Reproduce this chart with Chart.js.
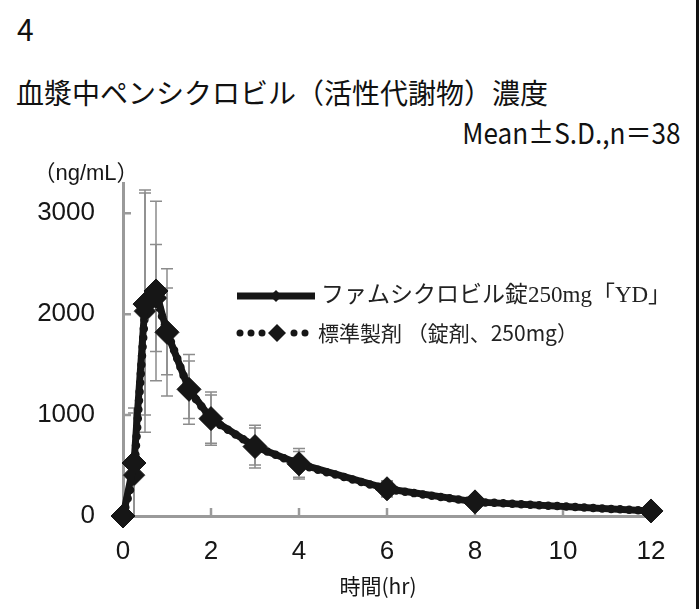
<!DOCTYPE html>
<html lang="ja">
<head>
<meta charset="utf-8">
<script src="https://cdn.jsdelivr.net/npm/chart.js@4/dist/chart.umd.min.js"></script>
<style>
  html, body { margin: 0; padding: 0; background: #fff; }
  body { width: 699px; height: 609px; position: relative; overflow: hidden;
         font-family: "Noto Sans CJK JP", sans-serif; color: #111; }
  .txt { position: absolute; white-space: nowrap; }
  #num { left: 17px; top: 13px; font-size: 30px; line-height: 30px; }
  #title { left: 16px; top: 78px; font-size: 28px; line-height: 28px; }
  #stat { right: 19px; top: 117px; font-size: 29px; line-height: 29px;
          transform: scaleX(0.9); transform-origin: right center; }
  #wrap { position: absolute; left: 0; top: 0; width: 699px; height: 609px; }
  .edge { position: absolute; right: 0; top: 0; width: 3px; height: 609px; background: #111; }
</style>
</head>
<body>
<div class="txt" id="num">4</div>
<div class="txt" id="title">血漿中ペンシクロビル（活性代謝物）濃度</div>
<div class="txt" id="stat">Mean±S.D.,n＝38</div>
<div id="wrap"><canvas id="pkChart" width="699" height="609"></canvas></div>
<div class="edge"></div>
<script>
// sampling times (hr)
const times = [0, 0.25, 0.5, 0.75, 1, 1.5, 2, 3, 4, 6, 8, 12];

// famciclovir 250mg "YD" : mean / SD (ng/mL)
const testMean = [0, 525, 2100, 2230, 1820, 1255, 965, 688, 518, 270, 140, 50];
const testSD   = [0, 545, 1100, 890, 630, 345, 265, 212, 152, 80, 45, 20];

// reference product : mean / SD (ng/mL)
const refMean = [0, 405, 2030, 2160, 1830, 1250, 960, 688, 512, 265, 140, 50];
const refSD   = [0, 615, 1200, 530, 430, 285, 240, 183, 128, 75, 40, 18];

const xTicks = [0, 2, 4, 6, 8, 10, 12];
const yTicks = [0, 1000, 2000, 3000];
const seriesNames = ['ファムシクロビル錠250mg「YD」', '標準製剤 （錠剤、250mg）'];

const AXIS = '#9a9a9a';
const INK = '#161616';

/* SD whiskers, drawn under the lines */
const errorBars = {
  id: 'errorBars',
  beforeDatasetsDraw(chart) {
    const {ctx, chartArea, scales: {x, y}} = chart;
    ctx.save();
    ctx.beginPath();
    ctx.rect(chartArea.left, chartArea.top - 4, chartArea.width + 10, chartArea.height + 4);
    ctx.clip();
    ctx.strokeStyle = '#8c8c8c';
    ctx.lineWidth = 1.5;
    [[testMean, testSD], [refMean, refSD]].forEach(([m, s]) => {
      times.forEach((t, i) => {
        if (!s[i]) return;
        const px = x.getPixelForValue(t);
        const hi = y.getPixelForValue(m[i] + s[i]);
        const lo = y.getPixelForValue(m[i] - s[i]);
        ctx.beginPath();
        ctx.moveTo(px, hi); ctx.lineTo(px, lo);
        ctx.moveTo(px - 6, hi); ctx.lineTo(px + 6, hi);
        ctx.moveTo(px - 6, lo); ctx.lineTo(px + 6, lo);
        ctx.stroke();
      });
    });
    ctx.restore();
  }
};

/* short tick marks pointing into the plot */
const innerTicks = {
  id: 'innerTicks',
  beforeDatasetsDraw(chart) {
    const {ctx, chartArea, scales: {x, y}} = chart;
    ctx.save();
    ctx.strokeStyle = AXIS;
    ctx.lineWidth = 2.5;
    ctx.beginPath();
    yTicks.forEach(v => {
      if (v === 0) return;
      const py = y.getPixelForValue(v);
      ctx.moveTo(chartArea.left, py); ctx.lineTo(chartArea.left + 8, py);
    });
    xTicks.forEach(v => {
      if (v === 0) return;
      const px = x.getPixelForValue(v);
      ctx.moveTo(px, chartArea.bottom); ctx.lineTo(px, chartArea.bottom - 8);
    });
    ctx.stroke();
    ctx.restore();
  }
};

/* unit label, x title and the legend inside the plot */
const labels = {
  id: 'labels',
  afterDraw(chart) {
    const {ctx, chartArea} = chart;
    ctx.save();
    ctx.fillStyle = INK;
    ctx.textBaseline = 'middle';
    ctx.textAlign = 'center';
    ctx.font = '22px "Liberation Sans", "Noto Sans CJK JP"';
    ctx.fillText('（ng/mL）', chartArea.left - 37, chartArea.top - 9);
    ctx.font = '21px "Noto Sans CJK JP"';
    ctx.fillText('時間(hr)', (chartArea.left + chartArea.right) / 2 - 9, 586);

    // legend
    const lx = 237, ly1 = 296, ly2 = 333;
    ctx.strokeStyle = INK;
    ctx.fillStyle = INK;
    ctx.lineWidth = 7;
    ctx.lineCap = 'butt';
    ctx.beginPath();
    ctx.moveTo(lx, ly1); ctx.lineTo(lx + 78, ly1);
    ctx.stroke();
    diamond(ctx, lx + 39, ly1, 6);
    [0, 11, 22, 54, 65].forEach(dx => {
      ctx.beginPath();
      ctx.arc(lx + 3 + dx, ly2, 3.5, 0, Math.PI * 2);
      ctx.fill();
    });
    diamond(ctx, lx + 40, ly2, 9);

    ctx.textAlign = 'left';
    ctx.fillStyle = '#222';
    ctx.font = '23px "Liberation Serif", "Noto Sans CJK JP"';
    ctx.fillText(seriesNames[0], lx + 84, ly1);
    ctx.font = '21px "Noto Sans CJK JP"';
    ctx.fillText(seriesNames[1], lx + 81, ly2);
    ctx.restore();
  }
};

function diamond(ctx, cx, cy, r) {
  ctx.beginPath();
  ctx.moveTo(cx, cy - r); ctx.lineTo(cx + r, cy);
  ctx.lineTo(cx, cy + r); ctx.lineTo(cx - r, cy);
  ctx.closePath();
  ctx.fill();
}

const toPoints = arr => times.map((t, i) => ({x: t, y: arr[i]}));

new Chart(document.getElementById('pkChart'), {
  type: 'line',
  data: {
    datasets: [
      {
        label: seriesNames[0],
        data: toPoints(testMean),
        borderColor: INK,
        borderWidth: 7,
        pointStyle: 'rectRot',
        pointRadius: 12,
        pointBackgroundColor: INK,
        pointBorderColor: INK,
        pointBorderWidth: 1,
        tension: 0,
        clip: false
      },
      {
        label: seriesNames[1],
        data: toPoints(refMean),
        borderColor: INK,
        borderWidth: 8.5,
        borderDash: [0, 9],
        borderCapStyle: 'round',
        pointStyle: 'rectRot',
        pointRadius: 11,
        pointBackgroundColor: INK,
        pointBorderColor: '#555',
        pointBorderWidth: 1,
        tension: 0,
        clip: false
      }
    ]
  },
  options: {
    responsive: false,
    animation: false,
    layout: {padding: {top: 183, right: 48, left: 0, bottom: 0}},
    plugins: {legend: {display: false}, tooltip: {enabled: false}},
    scales: {
      x: {
        type: 'linear',
        min: 0,
        max: 12,
        afterBuildTicks: s => { s.ticks = xTicks.map(v => ({value: v})); },
        afterFit: s => { s.height = 93; },
        grid: {drawOnChartArea: false, drawTicks: false},
        border: {color: AXIS, width: 3},
        ticks: {color: INK, padding: 20, font: {family: 'Liberation Sans', size: 26},
                callback: v => String(v)}
      },
      y: {
        min: 0,
        max: 3300,
        afterBuildTicks: s => { s.ticks = yTicks.map(v => ({value: v})); },
        afterFit: s => { s.width = 123; },
        grid: {drawOnChartArea: false, drawTicks: false},
        border: {color: AXIS, width: 3},
        ticks: {color: INK, padding: 28, font: {family: 'Liberation Sans', size: 26},
                callback: v => String(v)}
      }
    }
  },
  plugins: [errorBars, innerTicks, labels]
});
</script>
</body>
</html>
